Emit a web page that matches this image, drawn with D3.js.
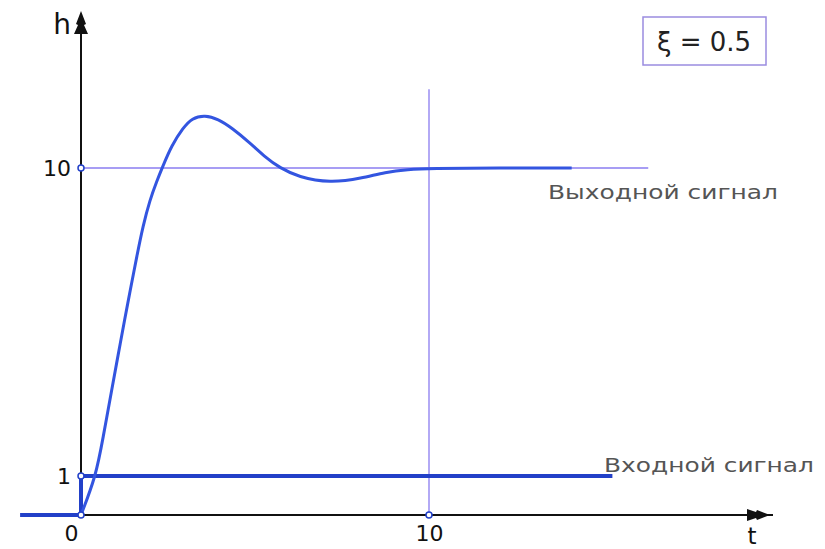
<!DOCTYPE html>
<html>
<head>
<meta charset="utf-8">
<style>
  body { margin: 0; background: #fff; }
  text { font-family: "DejaVu Sans", Verdana, sans-serif; }
</style>
</head>
<body>
<svg width="825" height="549"></svg>
<script src="https://d3js.org/d3.v7.min.js"></script>
<script>
// output signal h(t)
var outT = [0, 0.43, 0.63, 0.89, 1.06, 1.26, 1.41, 1.61, 1.78, 1.98, 2.18, 2.33, 2.61, 2.93, 3.19, 3.56,
            3.94, 4.34, 4.86, 5.29, 5.72, 6.24, 7.16, 8.07, 8.74, 9.4, 10, 12, 14.1];
var outH = [0, 1.0, 2.1, 3.55, 4.5, 5.6, 6.4, 7.45, 8.3, 9.07, 9.62, 10.0, 10.67, 11.17, 11.46, 11.55,
            11.43, 11.17, 10.73, 10.32, 10.0, 9.74, 9.56, 9.7, 9.88, 9.96, 9.99, 10, 10];
// input step
var inT = [-1.75, 0, 0, 15.27];
var inH = [0, 0, 1, 1];
var yTicks = [1, 10];
var xTicks = [0, 10];
var outLabel = "Выходной сигнал";
var inLabel = "Входной сигнал";
var xiLabel = "ξ = 0.5";

var svg = d3.select("svg");

var x = d3.scaleLinear().domain([0, 10]).range([81, 429]);
// the drawing is schematic: 0..1 is a little taller than the rest
var y = d3.scaleLinear().domain([0, 1, 10]).range([515, 476, 168]);

var purple = "#8a7cf0";
var blue = "#3355e0";
var dark = "#2240c8";

// guide lines at h=10 and t=10
svg.append("line")
  .attr("x1", x(0)).attr("x2", x(16.3))
  .attr("y1", y(10)).attr("y2", y(10))
  .attr("stroke", purple).attr("stroke-width", 1.3);
svg.append("line")
  .attr("x1", x(10)).attr("x2", x(10))
  .attr("y1", y(0)).attr("y2", y(12.3))
  .attr("stroke", purple).attr("stroke-width", 1.3);

// axes lines
svg.append("line")
  .attr("x1", x(0)).attr("x2", 773)
  .attr("y1", y(0)).attr("y2", y(0))
  .attr("stroke", "#111").attr("stroke-width", 2);
svg.append("line")
  .attr("x1", x(0)).attr("x2", x(0))
  .attr("y1", y(0)).attr("y2", 20)
  .attr("stroke", "#111").attr("stroke-width", 2);

// arrow heads
svg.append("path")
  .attr("d", "M81,11 L86,24 L84,25 L88,34 L74,34 L78,25 L76,24 Z")
  .attr("fill", "#111");
svg.append("path")
  .attr("d", "M770,515 L757,520 L756,518 L747,521 L747,509 L756,512 L757,510 Z")
  .attr("fill", "#111");

// input step
var inData = inT.map(function(t, i) { return [t, inH[i]]; });
svg.append("path")
  .datum(inData)
  .attr("d", d3.line().x(function(d) { return x(d[0]); }).y(function(d) { return y(d[1]); }))
  .attr("fill", "none")
  .attr("stroke", dark)
  .attr("stroke-width", 4);

// output response
var outData = outT.map(function(t, i) { return [t, outH[i]]; });
svg.append("path")
  .datum(outData)
  .attr("d", d3.line().curve(d3.curveBasis)
    .x(function(d) { return x(d[0]); }).y(function(d) { return y(d[1]); }))
  .attr("fill", "none")
  .attr("stroke", blue)
  .attr("stroke-width", 3);

// tick labels via axes
var yAxis = svg.append("g")
  .attr("transform", "translate(" + (x(0) - 2) + ",0)")
  .call(d3.axisLeft(y).tickValues(yTicks).tickSize(0).tickPadding(8));
var xAxis = svg.append("g")
  .attr("transform", "translate(0," + y(0) + ")")
  .call(d3.axisBottom(x).tickValues(xTicks).tickSize(0).tickPadding(10));
[yAxis, xAxis].forEach(function(g) {
  g.select(".domain").remove();
  g.selectAll("text")
    .attr("font-family", "DejaVu Sans, Verdana, sans-serif")
    .attr("font-size", 22)
    .attr("fill", "#111");
});
xAxis.selectAll("text").filter(function(d) { return d === 0; }).attr("dx", -10);

// tick markers
var marks = yTicks.map(function(v) { return [0, v]; }).concat(xTicks.map(function(v) { return [v, 0]; }));
svg.selectAll(".mark").data(marks).enter().append("circle")
  .attr("class", "mark")
  .attr("cx", function(d) { return x(d[0]); })
  .attr("cy", function(d) { return y(d[1]); })
  .attr("r", 3)
  .attr("fill", "#fff")
  .attr("stroke", dark)
  .attr("stroke-width", 1.5);

// axis names
svg.append("text").attr("x", 62).attr("y", 34).attr("text-anchor", "middle")
  .attr("font-size", 28).attr("fill", "#111").text("h");
svg.append("text").attr("x", 752).attr("y", 544).attr("text-anchor", "middle")
  .attr("font-size", 23).attr("fill", "#111").text("t");

// series labels
svg.append("text").attr("x", 548).attr("y", 199)
  .attr("font-size", 19).attr("fill", "#555")
  .attr("textLength", 230).attr("lengthAdjust", "spacingAndGlyphs").text(outLabel);
svg.append("text").attr("x", 604).attr("y", 472)
  .attr("font-size", 19).attr("fill", "#555")
  .attr("textLength", 210).attr("lengthAdjust", "spacingAndGlyphs").text(inLabel);

// xi box
svg.append("rect")
  .attr("x", 643).attr("y", 17).attr("width", 123).attr("height", 48)
  .attr("fill", "#fff").attr("stroke", "#9a8ce0").attr("stroke-width", 1.5);
svg.append("text").attr("x", 704).attr("y", 51).attr("text-anchor", "middle")
  .attr("font-size", 26).attr("fill", "#222").text(xiLabel);
</script>
</body>
</html>
